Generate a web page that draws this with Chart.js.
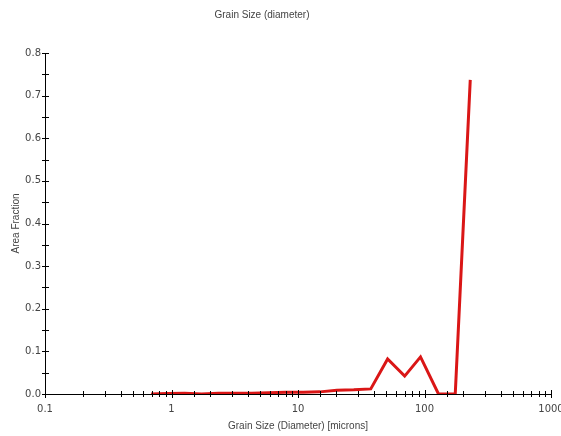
<!DOCTYPE html>
<html>
<head>
<meta charset="utf-8">
<script src="https://cdn.jsdelivr.net/npm/chart.js@4"></script>
<style>
  html, body { margin: 0; padding: 0; background: #fff; }
  #wrap { width: 561px; height: 436px; }
</style>
</head>
<body>
<div id="wrap"><canvas id="grain-chart"></canvas></div>
<script>
// grain diameter bins (microns) and their area fraction
const diameters = [0.69, 0.93, 1.27, 1.73, 2.35, 3.2, 4.3, 5.9, 8.0, 11, 14.9, 20.3, 27.6, 37.6, 51.1, 69.7, 93, 129, 175, 230];
const areaFraction = [0.000, 0.001, 0.002, 0.000, 0.002, 0.002, 0.002, 0.003, 0.004, 0.004, 0.005, 0.009, 0.010, 0.012, 0.082, 0.042, 0.087, 0.000, 0.000, 0.737];
const xTickLabels = [0.1, 1, 10, 100, 1000];
const yTickLabels = [0.0, 0.1, 0.2, 0.3, 0.4, 0.5, 0.6, 0.7, 0.8];
const chartTitle = 'Grain Size (diameter)';

const textColor = '#444';
const tickFont = "'DejaVu Sans', Verdana, sans-serif";
const titleFont = "'Liberation Sans', Arial, sans-serif";

// axis lines + ticks that cross the axis, and the title, like the original plot
const crossTicks = {
  id: 'crossTicks',
  afterDatasetsDraw(chart) {
    const ctx = chart.ctx;
    const xs = chart.scales.x;
    const ys = chart.scales.y;
    ctx.save();
    ctx.strokeStyle = '#000';
    ctx.lineWidth = 1;
    ctx.beginPath();
    ctx.moveTo(xs.left, ys.bottom + 0.5);
    ctx.lineTo(xs.right, ys.bottom + 0.5);
    ctx.moveTo(xs.left + 0.5, ys.top);
    ctx.lineTo(xs.left + 0.5, ys.bottom);
    xs.ticks.forEach(t => {
      const px = Math.round(xs.getPixelForValue(t.value)) + 0.5;
      const len = xTickLabels.includes(t.value) ? 4 : 3;
      ctx.moveTo(px, ys.bottom - len);
      ctx.lineTo(px, ys.bottom + len);
    });
    ys.ticks.forEach(t => {
      const py = Math.round(ys.getPixelForValue(t.value)) + 0.5;
      ctx.moveTo(xs.left - 3, py);
      ctx.lineTo(xs.left + 4, py);
    });
    ctx.stroke();

    ctx.fillStyle = textColor;
    ctx.font = '10px ' + titleFont;
    ctx.textAlign = 'center';
    ctx.textBaseline = 'middle';
    ctx.fillText(chartTitle, 262, 15);
    ctx.restore();
  }
};

const ctx = document.getElementById('grain-chart').getContext('2d');
new Chart(ctx, {
  type: 'line',
  data: {
    labels: diameters,
    datasets: [{
      label: 'Area Fraction',
      data: diameters.map((d, i) => ({ x: d, y: areaFraction[i] })),
      borderColor: 'rgb(218, 22, 22)',
      borderWidth: 3,
      pointRadius: 0,
      tension: 0,
      fill: false
    }]
  },
  options: {
    responsive: true,
    maintainAspectRatio: false,
    animation: false,
    layout: { padding: { left: 0, right: 10, top: 53, bottom: 0 } },
    plugins: {
      legend: { display: false },
      tooltip: { enabled: false },
      title: { display: false }
    },
    scales: {
      x: {
        type: 'logarithmic',
        min: 0.1,
        max: 1000,
        border: { display: false },
        grid: { display: false, drawTicks: false },
        afterFit: (scale) => { scale.height = 42; scale.paddingRight = 10; },
        ticks: {
          color: textColor,
          font: { family: tickFont, size: 10 },
          maxRotation: 0,
          autoSkip: false,
          padding: 9,
          callback: (v) => xTickLabels.includes(v) ? String(v) : ''
        },
        title: {
          display: true,
          text: 'Grain Size (Diameter) [microns]',
          color: textColor,
          font: { family: titleFont, size: 10 },
          padding: { top: 2, bottom: 4 }
        }
      },
      y: {
        min: 0,
        max: 0.8,
        border: { display: false },
        grid: { display: false, drawTicks: false },
        afterFit: (scale) => { scale.width = 45; },
        ticks: {
          stepSize: 0.05,
          color: textColor,
          font: { family: tickFont, size: 10 },
          padding: 4,
          callback: (v) => {
            const r = Math.round(v * 100);
            return r % 10 === 0 && yTickLabels.includes(r / 100) ? (r / 100).toFixed(1) : '';
          }
        },
        title: {
          display: true,
          text: 'Area Fraction',
          color: textColor,
          font: { family: titleFont, size: 10 },
          padding: { top: 10, bottom: 4 }
        }
      }
    }
  },
  plugins: [crossTicks]
});
</script>
</body>
</html>
